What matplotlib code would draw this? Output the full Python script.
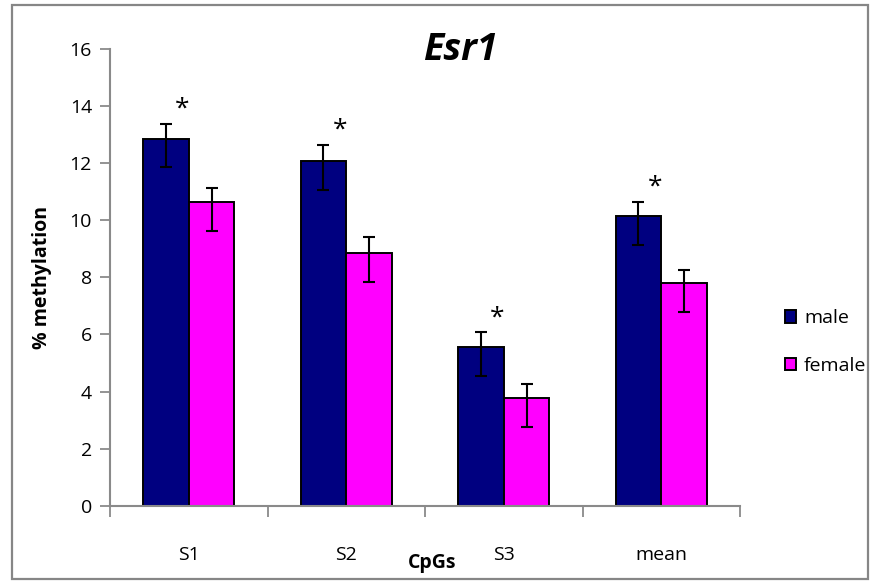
import matplotlib
matplotlib.use("Agg")
import matplotlib.pyplot as plt
from matplotlib.patches import Rectangle
from matplotlib.ticker import FixedLocator, NullFormatter
import numpy as np

plt.rcParams['font.family'] = ['Open Sans', 'DejaVu Sans']

categories = ["S1", "S2", "S3", "mean"]
male = [12.86, 12.07, 5.57, 10.14]
female = [10.64, 8.85, 3.77, 7.79]
male_err_low = [1.0, 1.02, 1.02, 1.0]
male_err_high = [0.5, 0.57, 0.5, 0.49]
female_err_low = [1.01, 1.01, 1.0, 1.01]
female_err_high = [0.49, 0.57, 0.5, 0.47]
significant = [True, True, True, True]
series_names = ["male", "female"]
yticks = [0, 2, 4, 6, 8, 10, 12, 14, 16]

W, H = 880, 584
fig = plt.figure(figsize=(W / 100, H / 100), dpi=100)
fig.patch.set_facecolor("white")

# outer chart frame
fig.add_artist(Rectangle((12 / W, 1 - 579 / H), (868 - 12) / W, (579 - 5) / H,
                         transform=fig.transFigure, fill=False,
                         edgecolor="#868686", linewidth=1.6))

ax = fig.add_axes([110 / W, 1 - 505.7 / H, (740 - 110) / W, (505.7 - 49) / H])

x = np.arange(len(categories))
bw = 0.289
gray = "#8a8a8a"

ax.bar(x - bw / 2, male, bw, color="#000080", edgecolor="black", linewidth=1.4,
       label=series_names[0], zorder=2)
ax.bar(x + bw / 2, female, bw, color="#ff00ff", edgecolor="black", linewidth=1.4,
       label=series_names[1], zorder=2)
ax.errorbar(x - bw / 2, male, yerr=[male_err_low, male_err_high], fmt="none",
            ecolor="black", elinewidth=1.5, capsize=4.5, capthick=1.5, zorder=3)
ax.errorbar(x + bw / 2, female, yerr=[female_err_low, female_err_high], fmt="none",
            ecolor="black", elinewidth=1.5, capsize=4.5, capthick=1.5, zorder=3)

# significance markers above the male bars
for i, sig in enumerate(significant):
    if sig:
        ax.annotate("*", xy=(x[i] - 0.04, male[i] + male_err_high[i]),
                    xytext=(0, 6), textcoords="offset points",
                    ha="center", va="baseline", fontsize=19, color="black")

ax.set_xlim(-0.5, len(categories) - 0.5)
ax.set_ylim(0, 16)
ax.set_yticks(yticks)
ax.set_yticklabels([str(v) for v in yticks], fontsize=14)
ax.set_xticks(x)
ax.set_xticklabels(categories, fontsize=14)
ax.xaxis.set_minor_locator(FixedLocator(np.arange(-0.5, len(categories), 1.0)))
ax.xaxis.set_minor_formatter(NullFormatter())
ax.tick_params(axis="x", which="major", length=0, pad=29)
ax.tick_params(axis="x", which="minor", length=8, width=1.3, color=gray, direction="out")
ax.tick_params(axis="y", length=7, width=1.3, color=gray, direction="out", pad=6)

for s in ["top", "right"]:
    ax.spines[s].set_visible(False)
for s in ["left", "bottom"]:
    ax.spines[s].set_color(gray)
    ax.spines[s].set_linewidth(1.5)

fig.text(42 / W, 1 - 277 / H, "% methylation", rotation=90, ha="center", va="center",
         fontsize=14, fontweight="bold")
fig.text(432 / W, 1 - 563 / H, "CpGs", ha="center", va="center",
         fontsize=14, fontweight="bold")
fig.text(460 / W, 1 - 50 / H, "Esr1", ha="center", va="center",
         fontsize=27, fontweight="bold", style="italic")

# legend
handles, labels = ax.get_legend_handles_labels()
leg = fig.legend(handles, labels, loc="center left", bbox_to_anchor=(767 / W, 1 - 342 / H),
                 frameon=False, fontsize=14, handlelength=0.6, handleheight=0.6,
                 handletextpad=0.4, labelspacing=1.5)

fig.savefig("out.png", dpi=100, facecolor="white")
